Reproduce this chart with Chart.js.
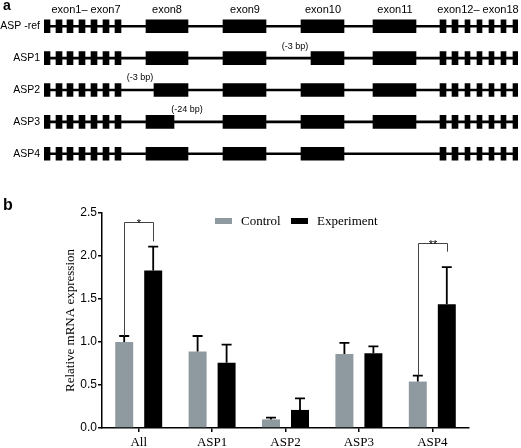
<!DOCTYPE html>
<html>
<head>
<meta charset="utf-8">
<script src="https://cdn.jsdelivr.net/npm/chart.js"></script>
<style>
html, body { margin: 0; padding: 0; background: #fff; }
#wrap { position: relative; width: 521px; height: 448px; }
#geneChart { position: absolute; left: 0; top: 0; }
#barChart { position: absolute; left: 0; top: 180px; }
</style>
</head>
<body>
<div id="wrap">
  <canvas id="geneChart" width="521" height="180"></canvas>
  <canvas id="barChart" width="521" height="268"></canvas>
</div>
<script>
// ---- panel a: exon structure (positions in drawing units along the gene) ----
const isoforms = ['ASP -ref', 'ASP1', 'ASP2', 'ASP3', 'ASP4'];
const intronSpan = [44, 518];

const exonRef = [[44,50],[56,62],[67,73],[79,85],[91,97],[103,109],[115,121],
    [146,188],[223,266],[301,344],[373,416],
    [440,446],[452,458],[465,470],[477,482],[489,494],[501,506],[513,518]];
const exonAsp1 = [[44,50],[56,62],[67,73],[79,85],[91,97],[103,109],[115,121],
    [146,188],[223,266],[311,344],[373,416],
    [440,446],[452,458],[465,470],[477,482],[489,494],[501,506],[513,518]];
const exonAsp2 = [[44,50],[56,62],[67,73],[79,85],[91,97],[103,109],[115,121],
    [154,188],[223,266],[301,344],[373,416],
    [440,446],[452,458],[465,470],[477,482],[489,494],[501,506],[513,518]];
const exonAsp3 = [[44,50],[56,62],[67,73],[79,85],[91,97],[103,109],[115,121],
    [146,174],[223,266],[301,344],[373,416],
    [440,446],[452,458],[465,470],[477,482],[489,494],[501,506],[513,518]];
const exonAsp4 = [[44,50],[56,62],[67,73],[79,85],[91,97],[103,109],[115,121],
    [146,188],[223,266],[301,344],
    [440,446],[452,458],[465,470],[477,482],[489,494],[501,506],[513,518]];

const exonGroupLabels = ['exon1\u2013 exon7', 'exon8', 'exon9', 'exon10', 'exon11', 'exon12\u2013 exon18'];
const exonGroupCenters = [86, 167, 245, 323, 395, 478];

const deletionRows = ['ASP1', 'ASP2', 'ASP3'];
const deletionLabels = ['(-3 bp)', '(-3 bp)', '(-24 bp)'];
const deletionCenters = [295, 140, 187];

// ---- panel b: qPCR bars ----
const groups = ['All', 'ASP1', 'ASP2', 'ASP3', 'ASP4'];
const controlMean = [1.00, 0.89, 0.10, 0.86, 0.54];
const controlErr = [0.07, 0.18, 0.02, 0.13, 0.07];
const expMean = [1.83, 0.76, 0.21, 0.87, 1.44];
const expErr = [0.28, 0.21, 0.135, 0.08, 0.43];

const sigGroups = [0, 4];
const sigTop = [2.40, 2.15];
const sigRightEnd = [2.17, 2.05];
const sigMarks = ['*', '**'];

const SANS = "'Liberation Sans', Arial, sans-serif";
const SERIF = "'Liberation Serif', 'Times New Roman', serif";

function toBars(list, row) {
    return list.map(function (e) { return { x: e, y: row }; });
}

const exonSets = [exonRef, exonAsp1, exonAsp2, exonAsp3, exonAsp4];
var exonBars = [];
exonSets.forEach(function (set, i) { exonBars = exonBars.concat(toBars(set, isoforms[i])); });
const intronBars = isoforms.map(function (r) { return { x: intronSpan, y: r }; });

const geneLabels = {
    id: 'geneLabels',
    afterDraw: function (chart) {
        const c = chart.ctx, xs = chart.scales.x, ys = chart.scales.y;
        c.save();
        c.fillStyle = '#000';
        c.font = 'bold 14px ' + SANS;
        c.textAlign = 'left';
        c.textBaseline = 'top';
        c.fillText('a', 3, -1);

        c.font = '11px ' + SANS;
        c.textAlign = 'center';
        c.textBaseline = 'middle';
        exonGroupLabels.forEach(function (t, i) {
            c.fillText(t, xs.getPixelForValue(exonGroupCenters[i]), 10);
        });

        c.font = '9px ' + SANS;
        deletionLabels.forEach(function (t, i) {
            const y = ys.getPixelForValue(isoforms.indexOf(deletionRows[i])) - 12;
            c.fillText(t, xs.getPixelForValue(deletionCenters[i]), y);
        });
        c.restore();
    }
};

new Chart(document.getElementById('geneChart'), {
    type: 'bar',
    data: {
        labels: isoforms,
        datasets: [
            { label: 'exons', data: exonBars, backgroundColor: '#000', barThickness: 13, grouped: false, order: 0 },
            { label: 'introns', data: intronBars, backgroundColor: '#000', barThickness: 2, grouped: false, order: 1 }
        ]
    },
    options: {
        indexAxis: 'y',
        responsive: false,
        animation: false,
        layout: { padding: { left: 0, right: 3, top: 6, bottom: 4 } },
        plugins: { legend: { display: false }, tooltip: { enabled: false } },
        scales: {
            x: { type: 'linear', min: 44, max: 518, display: false },
            y: {
                type: 'category',
                grid: { display: false, drawTicks: false },
                border: { display: false },
                ticks: { color: '#000', padding: 4, font: { family: SANS, size: 10.5 } },
                afterFit: function (s) { s.width = 44; }
            }
        }
    },
    plugins: [geneLabels]
});

const barExtras = {
    id: 'barExtras',
    afterDatasetsDraw: function (chart) {
        const c = chart.ctx, ys = chart.scales.y;
        const means = [controlMean, expMean], errs = [controlErr, expErr];
        c.save();
        // error bars (upper only)
        c.strokeStyle = '#000';
        c.lineWidth = 1.8;
        [0, 1].forEach(function (d) {
            chart.getDatasetMeta(d).data.forEach(function (el, j) {
                const top = ys.getPixelForValue(means[d][j] + errs[d][j]);
                c.beginPath();
                c.moveTo(el.x, el.y);
                c.lineTo(el.x, top);
                c.moveTo(el.x - 5, top);
                c.lineTo(el.x + 5, top);
                c.stroke();
            });
        });
        // significance brackets
        c.strokeStyle = '#444';
        c.lineWidth = 1;
        c.fillStyle = '#000';
        c.font = '11px ' + SANS;
        c.textAlign = 'center';
        c.textBaseline = 'alphabetic';
        sigGroups.forEach(function (g, k) {
            const a = chart.getDatasetMeta(0).data[g], b = chart.getDatasetMeta(1).data[g];
            const yTop = ys.getPixelForValue(sigTop[k]);
            const yL = ys.getPixelForValue(controlMean[g] + controlErr[g]);
            const yR = ys.getPixelForValue(sigRightEnd[k]);
            const xl = Math.round(a.x) + 0.5, xr = Math.round(b.x) + 0.5;
            c.beginPath();
            c.moveTo(xl, yL);
            c.lineTo(xl, Math.round(yTop) + 0.5);
            c.lineTo(xr, Math.round(yTop) + 0.5);
            c.lineTo(xr, yR);
            c.stroke();
            c.fillText(sigMarks[k], (xl + xr) / 2, yTop + 5);
        });
        // legend
        c.textAlign = 'left';
        c.textBaseline = 'middle';
        c.font = '13px ' + SERIF;
        const items = [[215, 241], [291, 317]];
        chart.data.datasets.forEach(function (ds, i) {
            c.fillStyle = ds.backgroundColor;
            c.fillRect(items[i][0], 38, 17, 6);
            c.fillStyle = '#000';
            c.fillText(ds.label, items[i][1], 41.5);
        });
        c.font = 'bold 16px ' + SANS;
        c.textBaseline = 'top';
        c.fillText('b', 3, 18);
        c.restore();
    }
};

new Chart(document.getElementById('barChart'), {
    type: 'bar',
    data: {
        labels: groups,
        datasets: [
            { label: 'Control', data: controlMean, backgroundColor: '#8f9aa0', categoryPercentage: 0.79, barPercentage: 0.62 },
            { label: 'Experiment', data: expMean, backgroundColor: '#000', categoryPercentage: 0.79, barPercentage: 0.62 }
        ]
    },
    options: {
        responsive: false,
        animation: false,
        layout: { padding: { left: 63, right: 52, top: 33, bottom: 0 } },
        plugins: { legend: { display: false }, tooltip: { enabled: false } },
        scales: {
            x: {
                grid: { display: true, drawOnChartArea: false, offset: false, tickLength: 4, color: '#000', lineWidth: 1.5 },
                border: { display: true, color: '#000', width: 1.5 },
                ticks: { color: '#000', padding: 3, font: { family: SERIF, size: 13 } },
                afterFit: function (s) { s.height = 20; }
            },
            y: {
                min: 0,
                max: 2.5,
                grid: { display: true, drawOnChartArea: false, tickLength: 4, color: '#000', lineWidth: 1.5 },
                border: { display: true, color: '#000', width: 1.5 },
                ticks: {
                    stepSize: 0.5,
                    color: '#000',
                    padding: 1,
                    font: { family: SANS, size: 12 },
                    callback: function (v) { return v.toFixed(1); }
                },
                title: { display: true, text: 'Relative mRNA expression', color: '#000', padding: 0, font: { family: SERIF, size: 13 } },
                afterFit: function (s) { s.width = 39; }
            }
        }
    },
    plugins: [barExtras]
});
</script>
</body>
</html>
